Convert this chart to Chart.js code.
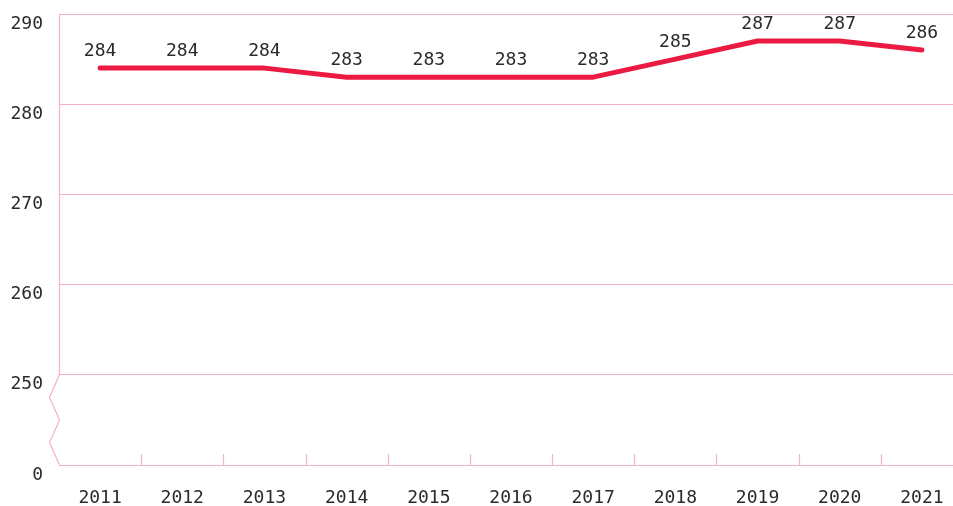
<!DOCTYPE html>
<html>
<head>
<meta charset="utf-8">
<script src="https://cdn.jsdelivr.net/npm/chart.js@4.4.1/dist/chart.umd.min.js"></script>
<style>
html,body{margin:0;padding:0;background:#fff;overflow:hidden;width:953px;height:506px;}
#wrap{width:963px;height:506px;}
</style>
</head>
<body>
<div id="wrap"><canvas id="c" width="963" height="506"></canvas></div>
<script>
const categories = ['2011','2012','2013','2014','2015','2016','2017','2018','2019','2020','2021'];
const values = [284,284,284,283,283,283,283,285,287,287,286];
const yTickValues = [240,250,260,270,280,290];
const yTickLabels = ['0','250','260','270','280','290'];

const FONT = "'DejaVu Sans Mono', 'Liberation Mono', monospace";
const PINK = '#f6b2c1';
const RED = '#ea1a42';
const TEXT = '#2a2a2a';

const decor = {
  id: 'decor',
  beforeDatasetsDraw(chart) {
    const ctx = chart.ctx, a = chart.chartArea;
    const ys = chart.scales.y, xs = chart.scales.x;
    const yTop = ys.getPixelForValue(290), y250 = ys.getPixelForValue(250), y0 = ys.getPixelForValue(240);
    const L = Math.round(a.left) + 0.5;
    ctx.save();
    ctx.strokeStyle = PINK;
    ctx.lineWidth = 1.2;
    ctx.beginPath();
    ctx.moveTo(L, yTop);
    ctx.lineTo(L, y250);
    const h = y0 - y250;
    ctx.lineTo(L - 10, y250 + h * 0.25);
    ctx.lineTo(L, y250 + h * 0.5);
    ctx.lineTo(L - 10, y250 + h * 0.75);
    ctx.lineTo(L, y0);
    ctx.stroke();
    // small tick marks between categories
    ctx.beginPath();
    for (let i = 0; i < categories.length - 1; i++) {
      const x = Math.round((xs.getPixelForValue(i) + xs.getPixelForValue(i + 1)) / 2) + 0.5;
      ctx.moveTo(x, y0);
      ctx.lineTo(x, y0 - 11);
    }
    ctx.stroke();
    ctx.restore();
  },
  afterDatasetsDraw(chart) {
    const ctx = chart.ctx;
    const meta = chart.getDatasetMeta(0);
    ctx.save();
    ctx.font = '18px ' + FONT;
    ctx.fillStyle = TEXT;
    ctx.textAlign = 'center';
    ctx.textBaseline = 'middle';
    meta.data.forEach((pt, i) => {
      ctx.fillText(String(values[i]), pt.x, pt.y - 17);
    });
    ctx.restore();
  }
};

new Chart(document.getElementById('c'), {
  type: 'line',
  data: {
    labels: categories,
    datasets: [{
      data: values,
      borderColor: RED,
      borderWidth: 5,
      borderCapStyle: 'round',
      borderJoinStyle: 'round',
      pointRadius: 0,
      tension: 0,
      fill: false
    }]
  },
  options: {
    responsive: false,
    animation: false,
    devicePixelRatio: 1,
    layout: { padding: { top: 14, right: 0, left: 0, bottom: 0 } },
    plugins: { legend: { display: false }, tooltip: { enabled: false } },
    scales: {
      x: {
        type: 'category',
        offset: true,
        grid: { display: false, drawTicks: false },
        border: { display: false },
        ticks: { color: TEXT, font: { family: FONT, size: 18 }, padding: 23, maxRotation: 0, autoSkip: false },
        afterFit(s) { s.height = 41; s.paddingLeft = 0; s.paddingRight = 0; }
      },
      y: {
        min: 240,
        max: 290,
        afterBuildTicks(s) { s.ticks = yTickValues.map(v => ({ value: v })); },
        grid: { color: PINK, lineWidth: 1, drawTicks: false },
        border: { display: false },
        ticks: {
          color: TEXT,
          font: { family: FONT, size: 18 },
          padding: 16,
          labelOffset: 10,
          callback: (v) => { const i = yTickValues.indexOf(v); return i >= 0 ? yTickLabels[i] : ''; }
        },
        afterFit(s) { s.width = 59; s.paddingTop = 0; s.paddingBottom = 0; }
      }
    }
  },
  plugins: [decor]
});
</script>
</body>
</html>
